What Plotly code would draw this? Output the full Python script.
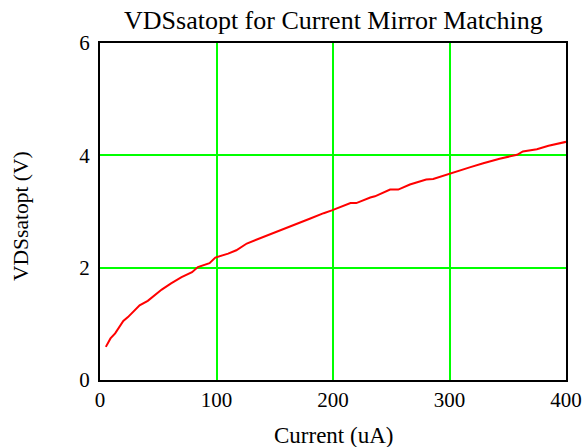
import plotly.graph_objects as go

current_uA = [5, 9, 13, 20, 24, 30, 34, 41, 47, 53, 61, 70, 79, 84, 94, 99, 110, 117,
              126, 146, 163, 180, 192, 199, 215, 220, 232, 236, 249, 256, 266, 280,
              286, 299, 309, 318, 329, 343, 358, 363, 375, 385, 400]
vdssatopt_V = [0.59, 0.74, 0.83, 1.05, 1.12, 1.25, 1.33, 1.41, 1.51, 1.61, 1.72, 1.83,
               1.92, 2.01, 2.08, 2.18, 2.25, 2.31, 2.43, 2.59, 2.72, 2.87, 2.97, 3.02,
               3.15, 3.15, 3.25, 3.27, 3.39, 3.39, 3.48, 3.57, 3.58, 3.67, 3.73, 3.79,
               3.86, 3.94, 4.01, 4.07, 4.11, 4.17, 4.24]
x_ticks = [0, 100, 200, 300, 400]
y_ticks = [0, 2, 4, 6]

title_text = "VDSsatopt for Current Mirror Matching"
x_title = "Current (uA)"
y_title = "VDSsatopt (V)"

font_family = "Liberation Serif, Times New Roman, serif"
W, H = 588, 447
L, R, T, B = 100, 22, 43, 67

fig = go.Figure()
fig.add_trace(go.Scatter(x=current_uA, y=vdssatopt_V, mode="lines",
                         line=dict(color="#ff0000", width=2), showlegend=False,
                         hoverinfo="skip"))

def px_x(p):
    return (p - L) / (W - L - R)

def px_y(p):
    return (H - B - p) / (H - T - B)

fig.update_layout(
    width=W, height=H,
    margin=dict(l=L, r=R, t=T, b=B),
    paper_bgcolor="white", plot_bgcolor="white",
    font=dict(family=font_family, color="black", size=21),
    xaxis=dict(range=[0, 400], tickvals=x_ticks, showgrid=True, gridcolor="#00ff00",
               gridwidth=2, showline=True, linecolor="black", linewidth=2, mirror=True,
               zeroline=False, ticks="", tickfont=dict(size=21), automargin=False,
               fixedrange=True),
    yaxis=dict(range=[0, 6], tickvals=y_ticks, showgrid=True, gridcolor="#00ff00",
               gridwidth=2, showline=True, linecolor="black", linewidth=2, mirror=True,
               zeroline=False, ticks="", tickfont=dict(size=21), automargin=False,
               fixedrange=True, ticklabelstandoff=4),
    annotations=[
        dict(text=title_text, xref="paper", yref="paper", x=px_x(333), y=px_y(21),
             xanchor="center", yanchor="middle", showarrow=False,
             font=dict(size=26, family=font_family)),
        dict(text=x_title, xref="paper", yref="paper", x=px_x(333), y=px_y(435),
             xanchor="center", yanchor="middle", showarrow=False,
             font=dict(size=23, family=font_family)),
        dict(text=y_title, xref="paper", yref="paper", x=px_x(21), y=px_y(216),
             xanchor="center", yanchor="middle", showarrow=False, textangle=-90,
             font=dict(size=21.5, family=font_family)),
    ],
)

fig.write_html("out.html", config={"displayModeBar": False},
               post_script="document.body.style.margin='0';document.body.style.padding='0';")
